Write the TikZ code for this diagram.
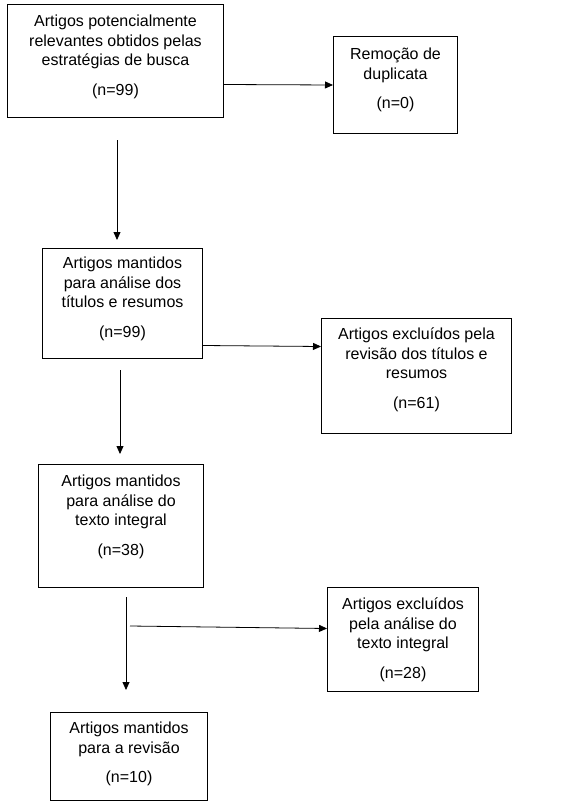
\documentclass[tikz,border=0pt]{standalone}
\usepackage{fontspec}
\setmainfont{Liberation Sans}
\usetikzlibrary{arrows.meta}
\begin{document}
\begin{tikzpicture}[x=1bp,y=-1bp,
  box/.style={draw, line width=1bp, inner sep=0pt, anchor=north west},
  txt/.style={font=\fontsize{16bp}{19.5bp}\selectfont, align=center, inner sep=0pt, anchor=north},
  arr/.style={-{Triangle[length=8bp,width=7bp]}, line width=0.8bp}]
\useasboundingbox (0,0) rectangle (579,809);
% boxes
\node[box, minimum width=216bp, minimum height=113bp] (b1) at (7,4) {};
\node[box, minimum width=124bp, minimum height=97bp] (b2) at (333,36) {};
\node[box, minimum width=160bp, minimum height=110bp] (b3) at (42,248) {};
\node[box, minimum width=190bp, minimum height=115bp] (b4) at (321,318) {};
\node[box, minimum width=165bp, minimum height=123bp] (b5) at (38,464) {};
\node[box, minimum width=151bp, minimum height=104bp] (b6) at (327,587) {};
\node[box, minimum width=157bp, minimum height=88bp] (b7) at (50,712) {};
% texts
\node[txt] (t1) at ([yshift=-11bp]b1.north) {Artigos potencialmente\\relevantes obtidos pelas\\estratégias de busca\\[10bp](n=99)};
\node[txt] (t2) at ([yshift=-12bp]b2.north) {Remoção de\\duplicata\\[10bp](n=0)};
\node[txt] (t3) at ([yshift=-9bp]b3.north) {Artigos mantidos\\para análise dos\\títulos e resumos\\[10bp](n=99)};
\node[txt] (t4) at ([yshift=-10bp]b4.north) {Artigos excluídos pela\\revisão dos títulos e\\resumos\\[10bp](n=61)};
\node[txt] (t5) at ([yshift=-11bp]b5.north) {Artigos mantidos\\para análise do\\texto integral\\[10bp](n=38)};
\node[txt] (t6) at ([yshift=-11bp]b6.north) {Artigos excluídos\\pela análise do\\texto integral\\[10bp](n=28)};
\node[txt] (t7) at ([yshift=-10bp]b7.north) {Artigos mantidos\\para a revisão\\[10bp](n=10)};
% free arrow ends
\coordinate (a2s) at (117,140);
\coordinate (a2e) at (117,240);
\coordinate (a4s) at (120,370);
\coordinate (a4e) at (120,454);
\coordinate (a5s) at (126,597);
\coordinate (a5e) at (126,690);
\coordinate (a6s) at (130,626);
% connectors
\draw[arr] ([yshift=-23.5bp]b1.east) -- (b2.west);
\draw[arr] (a2s) -- (a2e);
\draw[arr] ([yshift=-42bp]b3.east) -- ([yshift=29.5bp]b4.west);
\draw[arr] (a4s) -- (a4e);
\draw[arr] (a5s) -- (a5e);
\draw[arr] (a6s) -- ([yshift=11bp]b6.west);
\end{tikzpicture}
\end{document}
